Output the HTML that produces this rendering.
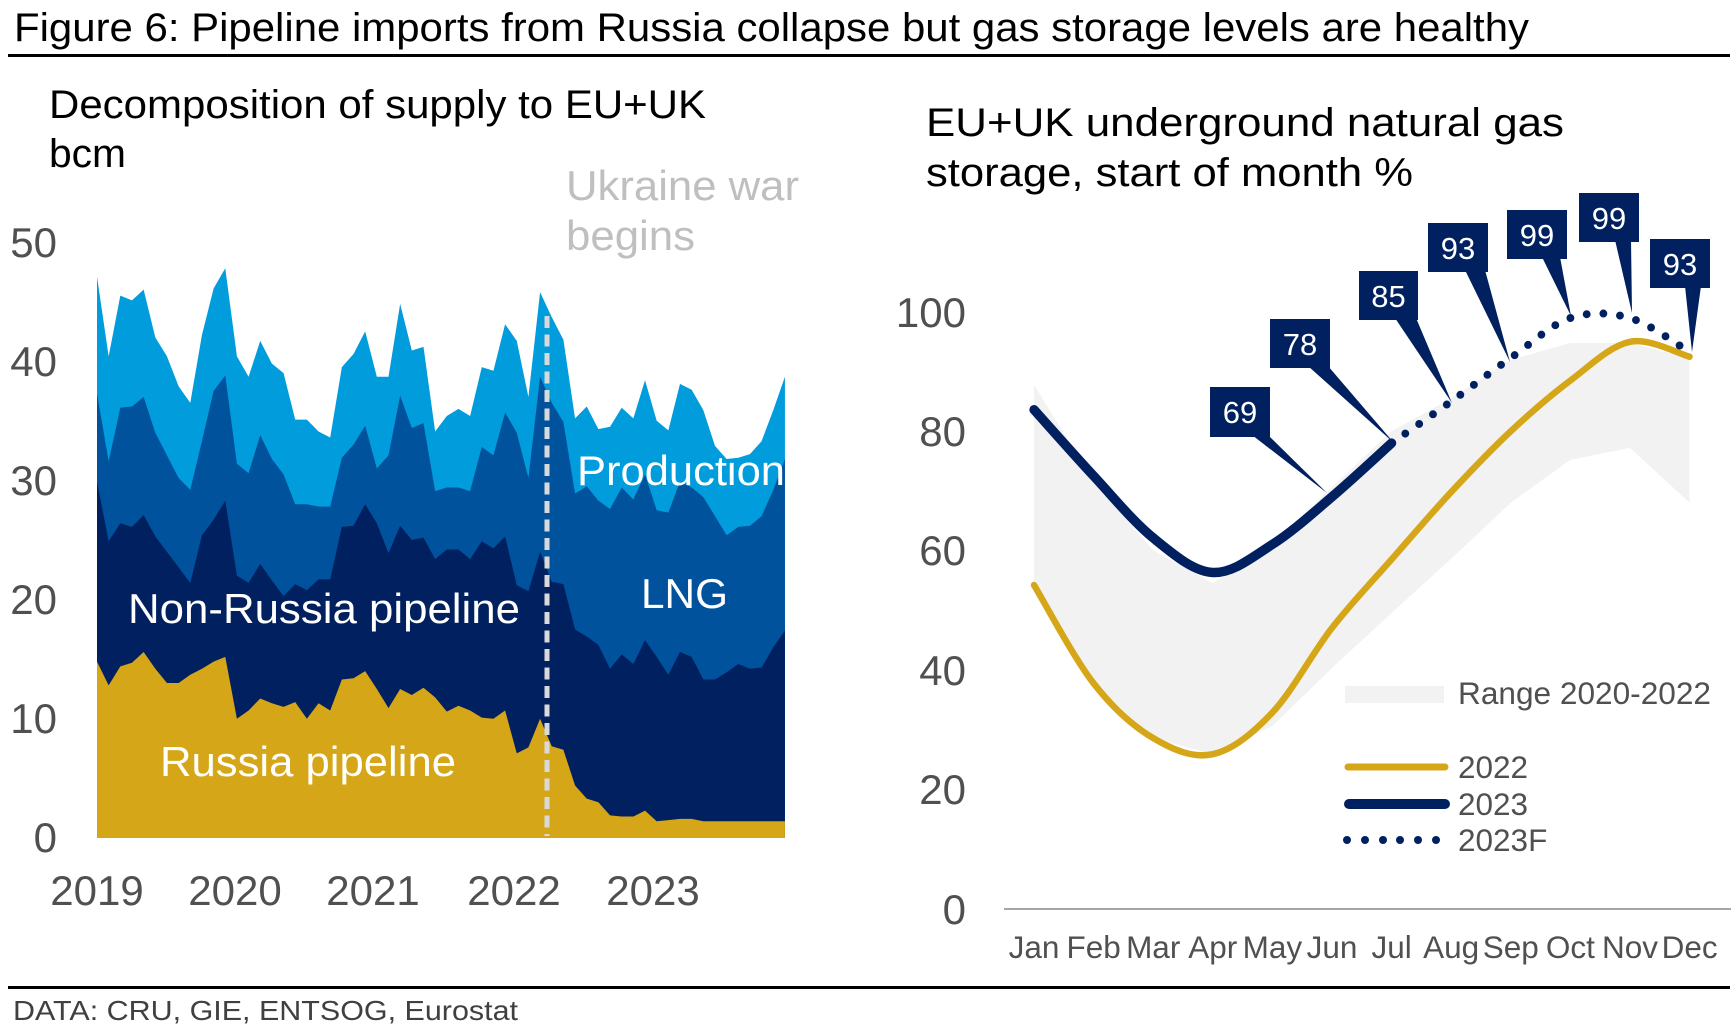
<!DOCTYPE html>
<html>
<head>
<meta charset="utf-8">
<style>
html,body{margin:0;padding:0;background:#fff;}
svg{display:block;}
text{font-family:"Liberation Sans",Arial,sans-serif;}
</style>
</head>
<body>
<svg width="1733" height="1035" viewBox="0 0 1733 1035" xmlns="http://www.w3.org/2000/svg">
<rect x="0" y="0" width="1733" height="1035" fill="#ffffff"/>

<!-- Title -->
<text x="14" y="41" font-size="40" fill="#000" textLength="1515" lengthAdjust="spacingAndGlyphs">Figure 6: Pipeline imports from Russia collapse but gas storage levels are healthy</text>
<rect x="8" y="54" width="1722" height="3" fill="#000"/>

<!-- Left chart titles -->
<text x="49" y="118" font-size="40" fill="#000" textLength="657" lengthAdjust="spacingAndGlyphs">Decomposition of supply to EU+UK</text>
<text x="49" y="167" font-size="40" fill="#000" textLength="77" lengthAdjust="spacingAndGlyphs">bcm</text>
<text x="566" y="200" font-size="42" fill="#bfbfbf" textLength="233" lengthAdjust="spacingAndGlyphs">Ukraine war</text>
<text x="566" y="250" font-size="42" fill="#bfbfbf" textLength="129" lengthAdjust="spacingAndGlyphs">begins</text>

<!-- Left y labels -->
<g font-size="42" fill="#505050" text-anchor="end">
<text x="57" y="257">50</text>
<text x="57" y="376">40</text>
<text x="57" y="495">30</text>
<text x="57" y="614">20</text>
<text x="57" y="733">10</text>
<text x="57" y="852">0</text>
</g>
<!-- Left x labels -->
<g font-size="42" fill="#505050" text-anchor="middle">
<text x="97" y="905">2019</text>
<text x="235" y="905">2020</text>
<text x="373" y="905">2021</text>
<text x="514" y="905">2022</text>
<text x="653" y="905">2023</text>
</g>

<!-- Stacked areas -->
<g transform="translate(97,838) scale(11.66,-11.92)">
<polygon fill="#009cdc" points="0,0 0,47.1 1,40.4 2,45.5 3,45.1 4,46.0 5,42.0 6,40.4 7,37.9 8,36.5 9,42.2 10,46.1 11,47.8 12,40.4 13,38.7 14,41.7 15,39.8 16,39.0 17,35.1 18,35.1 19,34.1 20,33.6 21,39.5 22,40.6 23,42.5 24,38.7 25,38.7 26,44.8 27,40.9 28,41.2 29,34.1 30,35.4 31,36.0 32,35.4 33,39.5 34,39.2 35,43.1 36,41.7 37,37.0 38,45.8 39,43.7 40,41.8 41,35.2 42,36.2 43,34.3 44,34.5 45,36.1 46,35.2 47,38.4 48,35.0 49,34.2 50,38.1 51,37.6 52,35.9 53,32.9 54,31.8 55,31.9 56,32.2 57,33.3 58,35.9 59,38.7 59,0"/>
<polygon fill="#00529c" points="0,0 0,37.3 1,31.6 2,36.1 3,36.2 4,37.0 5,34.0 6,32.1 7,30.2 8,29.2 9,33.3 10,37.5 11,38.8 12,31.4 13,30.6 14,33.8 15,31.8 16,30.5 17,28.0 18,28.0 19,27.8 20,27.8 21,31.9 22,33.0 23,34.6 24,31.0 25,32.1 26,37.1 27,34.4 28,34.8 29,29.1 30,29.4 31,29.4 32,29.1 33,32.8 34,32.1 35,35.7 36,34.0 37,30.2 38,38.7 39,36.5 40,34.9 41,28.9 42,29.5 43,28.3 44,27.6 45,29.4 46,28.4 47,30.5 48,27.5 49,27.3 50,29.9 51,29.4 52,28.6 53,27.0 54,25.4 55,26.1 56,26.2 57,27.0 58,29.2 59,31.8 59,0"/>
<polygon fill="#002060" points="0,0 0,29.9 1,24.9 2,26.4 3,26.1 4,27.1 5,25.3 6,24.0 7,22.7 8,21.4 9,25.4 10,26.7 11,28.3 12,22.0 13,21.4 14,23.0 15,21.6 16,20.3 17,21.3 18,20.8 19,21.7 20,21.7 21,26.1 22,26.2 23,28.0 24,26.4 25,23.9 26,26.2 27,25.0 28,25.2 29,23.4 30,24.2 31,24.2 32,23.4 33,24.9 34,24.3 35,25.3 36,21.2 37,20.7 38,24.0 39,21.5 40,21.3 41,17.5 42,16.9 43,16.2 44,14.2 45,15.4 46,14.6 47,16.6 48,15.2 49,13.7 50,15.6 51,15.2 52,13.3 53,13.3 54,13.9 55,14.6 56,14.2 57,14.3 58,16.0 59,17.4 59,0"/>
<polygon fill="#d5a617" points="0,0 0,14.8 1,12.8 2,14.4 3,14.7 4,15.6 5,14.2 6,13.0 7,13.0 8,13.7 9,14.2 10,14.8 11,15.2 12,10.0 13,10.7 14,11.7 15,11.3 16,11.0 17,11.4 18,10.0 19,11.3 20,10.7 21,13.3 22,13.4 23,14.0 24,12.5 25,10.9 26,12.5 27,12.0 28,12.6 29,11.8 30,10.6 31,11.1 32,10.7 33,10.1 34,10.0 35,10.7 36,7.1 37,7.6 38,10.0 39,7.7 40,7.4 41,4.4 42,3.3 43,3.0 44,1.9 45,1.8 46,1.8 47,2.3 48,1.4 49,1.5 50,1.6 51,1.6 52,1.4 53,1.4 54,1.4 55,1.4 56,1.4 57,1.4 58,1.4 59,1.4 59,0"/>
</g>

<!-- War line -->
<line x1="547" y1="316" x2="547" y2="836" stroke="#d9d9d9" stroke-width="5" stroke-dasharray="12 6.5"/>

<!-- Left labels -->
<g fill="#ffffff" font-size="42">
<text x="577" y="485" textLength="208" lengthAdjust="spacingAndGlyphs">Production</text>
<text x="641" y="608" textLength="87" lengthAdjust="spacingAndGlyphs">LNG</text>
<text x="128" y="623" textLength="392" lengthAdjust="spacingAndGlyphs">Non-Russia pipeline</text>
<text x="160" y="776" textLength="296" lengthAdjust="spacingAndGlyphs">Russia pipeline</text>
</g>

<!-- Right chart titles -->
<text x="926" y="136" font-size="40" fill="#000" textLength="638" lengthAdjust="spacingAndGlyphs">EU+UK underground natural gas</text>
<text x="926" y="186" font-size="40" fill="#000" textLength="487" lengthAdjust="spacingAndGlyphs">storage, start of month %</text>

<!-- Right y labels -->
<g font-size="42" fill="#505050" text-anchor="end">
<text x="966" y="327">100</text>
<text x="966" y="446">80</text>
<text x="966" y="565">60</text>
<text x="966" y="685">40</text>
<text x="966" y="804">20</text>
<text x="966" y="924">0</text>
</g>

<!-- Axis line -->
<line x1="1004" y1="909" x2="1731" y2="909" stroke="#a6a6a6" stroke-width="2"/>

<g transform="matrix(0.98350 0 0 1 14.11 0)">
<!-- Range band -->
<polygon fill="#f2f2f2" points="1037,384.7 1097.6,481.9 1158.2,550.4 1218.8,583.2 1279.4,544.4 1340,487.2 1400.6,431.2 1461.2,398.4 1521.8,359.7 1582.4,343 1643,343 1703.6,357.9 1703.6,502.7 1643,447.9 1582.4,459.8 1521.8,502.7 1461.2,558.7 1400.6,613 1340,668 1279.4,726 1218.8,754.2 1158.2,738.1 1097.6,683.3 1037,585"/>

<!-- 2022 line -->
<path fill="none" stroke="#d5a617" stroke-width="6.5" stroke-linecap="round" d="M1037,585 C1047.1,601.4 1077.4,657.8 1097.6,683.3 C1117.8,708.8 1138.0,726.3 1158.2,738.1 C1178.4,749.9 1198.6,758.5 1218.8,754.2 C1239.0,749.9 1259.2,733.6 1279.4,712.5 C1299.6,691.5 1319.8,653.4 1340,627.9 C1360.2,602.4 1380.4,582.0 1400.6,559.3 C1420.8,536.7 1441.0,513.4 1461.2,492.0 C1481.4,470.7 1501.6,449.8 1521.8,431.2 C1542.0,412.6 1562.2,395.4 1582.4,380.5 C1602.6,365.6 1622.8,345.8 1643,341.8 C1663.2,337.8 1693.5,354.2 1703.6,356.7"/>

<!-- 2023 line -->
<path fill="none" stroke="#002060" stroke-width="9.5" stroke-linecap="round" d="M1037,409.7 C1047.1,420.7 1077.4,454.5 1097.6,475.9 C1117.8,497.3 1138.0,521.8 1158.2,537.9 C1178.4,554.0 1198.6,571.4 1218.8,572.5 C1239.0,573.6 1259.2,557.0 1279.4,544.4 C1299.6,531.8 1319.8,513.7 1340,496.8 C1360.2,479.9 1390.5,452.1 1400.6,443.1"/>

<!-- 2023F dotted -->
<path fill="none" stroke="#002060" stroke-width="8" stroke-linecap="round" stroke-dasharray="0 17" d="M1400.6,443.1 C1410.7,436.2 1441.0,415.6 1461.2,401.4 C1481.4,387.2 1501.6,371.8 1521.8,357.9 C1542.0,344.0 1562.2,324.7 1582.4,318 C1602.6,311.4 1622.8,312.4 1643,318 C1663.2,323.7 1693.5,346.3 1703.6,351.9"/>
</g>

<!-- Month labels -->
<g font-size="31.5" fill="#505050" text-anchor="middle">
<text x="1034" y="958">Jan</text>
<text x="1093.6" y="958">Feb</text>
<text x="1153.2" y="958">Mar</text>
<text x="1212.8" y="958">Apr</text>
<text x="1272.4" y="958">May</text>
<text x="1332" y="958">Jun</text>
<text x="1391.6" y="958">Jul</text>
<text x="1451.2" y="958">Aug</text>
<text x="1510.8" y="958">Sep</text>
<text x="1570.4" y="958">Oct</text>
<text x="1630" y="958">Nov</text>
<text x="1689.6" y="958">Dec</text>
</g>

<!-- Callout boxes -->
<g fill="#002060">
<polygon points="1252,435 1268,435 1327,493"/>
<rect x="1210" y="387" width="60" height="50"/>
<polygon points="1308,366 1328,366 1394,443"/>
<rect x="1270" y="319" width="60" height="49"/>
<polygon points="1395,318 1416,318 1452,403"/>
<rect x="1359" y="271" width="59" height="49"/>
<polygon points="1465,270 1485,270 1510,362"/>
<rect x="1428" y="223" width="60" height="49"/>
<polygon points="1542,257 1560,257 1571,316"/>
<rect x="1507" y="210" width="60" height="49"/>
<polygon points="1615,240 1631,240 1632,313"/>
<rect x="1579" y="193" width="60" height="49"/>
<polygon points="1685,286 1701,286 1692,352"/>
<rect x="1650" y="239" width="60" height="49"/>
</g>
<g fill="#ffffff" font-size="31" text-anchor="middle">
<text x="1240" y="423">69</text>
<text x="1300" y="355">78</text>
<text x="1388.5" y="307">85</text>
<text x="1458" y="259">93</text>
<text x="1537" y="246">99</text>
<text x="1609" y="229">99</text>
<text x="1680" y="275">93</text>
</g>

<!-- Legend -->
<rect x="1345" y="686" width="99" height="17" fill="#f2f2f2"/>
<text x="1458" y="704" font-size="31.5" fill="#505050" textLength="253" lengthAdjust="spacingAndGlyphs">Range 2020-2022</text>
<line x1="1348" y1="767" x2="1445" y2="767" stroke="#d5a617" stroke-width="7" stroke-linecap="round"/>
<text x="1458" y="778" font-size="31.5" fill="#505050">2022</text>
<line x1="1349" y1="804" x2="1445" y2="804" stroke="#002060" stroke-width="10" stroke-linecap="round"/>
<text x="1458" y="815" font-size="31.5" fill="#505050">2023</text>
<g fill="#002060">
<circle cx="1347" cy="840" r="4"/>
<circle cx="1365" cy="840" r="4"/>
<circle cx="1383" cy="840" r="4"/>
<circle cx="1400" cy="840" r="4"/>
<circle cx="1418" cy="840" r="4"/>
<circle cx="1436" cy="840" r="4"/>
</g>
<text x="1458" y="851" font-size="31.5" fill="#505050">2023F</text>

<!-- Footer -->
<rect x="8" y="986" width="1722" height="3" fill="#000"/>
<text x="13" y="1020" font-size="28" fill="#404040" textLength="505" lengthAdjust="spacingAndGlyphs">DATA: CRU, GIE, ENTSOG, Eurostat</text>
</svg>
</body>
</html>
